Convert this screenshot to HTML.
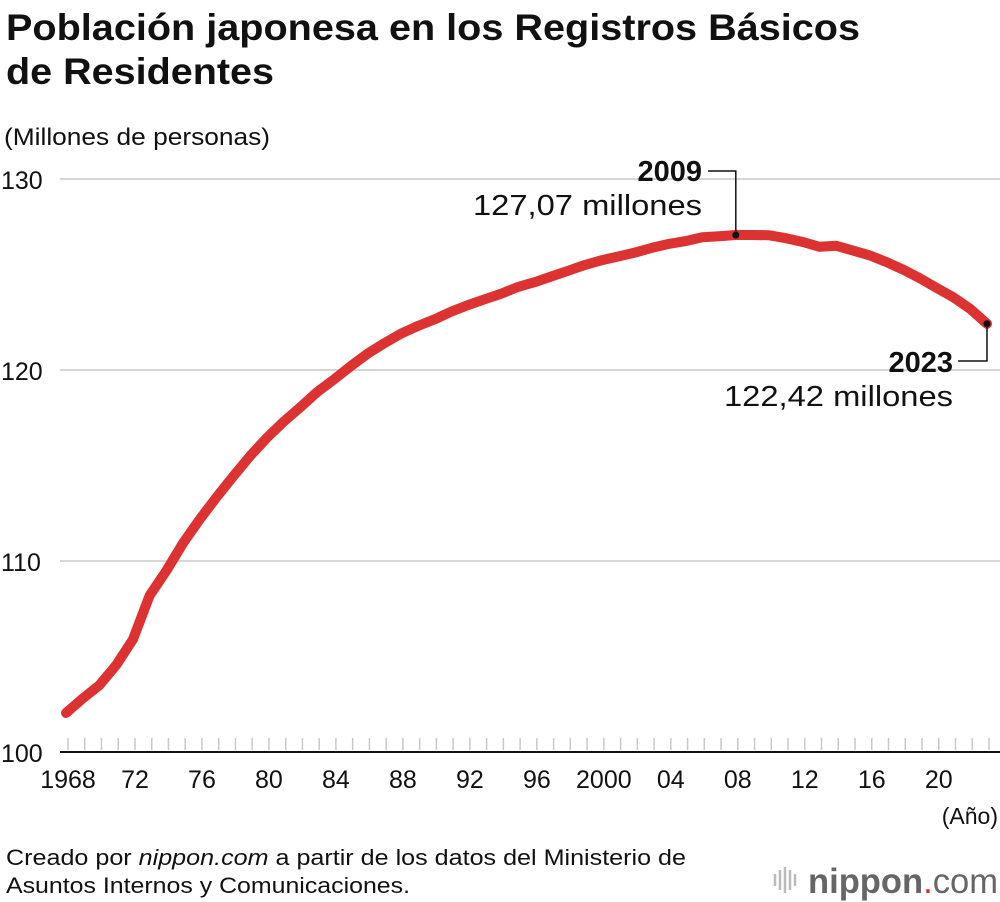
<!DOCTYPE html>
<html><head><meta charset="utf-8">
<style>
body{margin:0;background:#fff;font-family:"Liberation Sans",Arial,sans-serif;}
#wrap{position:relative;width:1000px;height:902px;overflow:hidden;}
</style></head>
<body>
<div id="wrap">
<svg id="chart" width="1000" height="902" xmlns="http://www.w3.org/2000/svg">
<text x="6" y="40" font-size="37" font-weight="bold" fill="#111" textLength="854" lengthAdjust="spacingAndGlyphs">Población japonesa en los Registros Básicos</text>
<text x="6" y="84" font-size="37" font-weight="bold" fill="#111" textLength="268" lengthAdjust="spacingAndGlyphs">de Residentes</text>
<text x="4" y="145" font-size="24" fill="#111" textLength="266" lengthAdjust="spacingAndGlyphs">(Millones de personas)</text>
<g id="grid"></g>
<g id="xticks"></g>
<path id="line" fill="none" stroke="#dc3232" stroke-width="10" stroke-linejoin="round" stroke-linecap="round"></path>
<g id="annot"></g>
<text x="998" y="824" font-size="23" text-anchor="end" fill="#111">(Año)</text>
<text x="6" y="865" font-size="22" fill="#111" textLength="680" lengthAdjust="spacingAndGlyphs">Creado por <tspan font-style="italic">nippon.com</tspan> a partir de los datos del Ministerio de</text>
<text x="6" y="893" font-size="22" fill="#111" textLength="404" lengthAdjust="spacingAndGlyphs">Asuntos Internos y Comunicaciones.</text>
<g>
<g stroke="#bbb" stroke-width="2.5">
<line x1="775" y1="874" x2="775" y2="886"/><line x1="780" y1="870" x2="780" y2="890"/><line x1="785" y1="867" x2="785" y2="893"/><line x1="790" y1="870" x2="790" y2="890"/><line x1="795" y1="874" x2="795" y2="886"/>
</g>
<text x="808" y="893" font-size="35" fill="#666" textLength="190" lengthAdjust="spacingAndGlyphs"><tspan font-weight="bold">nippon</tspan><tspan fill="#e0232b">.</tspan><tspan>com</tspan></text>
</g>
</svg>
</div>
<script>
const years=[1968,1969,1970,1971,1972,1973,1974,1975,1976,1977,1978,1979,1980,1981,1982,1983,1984,1985,1986,1987,1988,1989,1990,1991,1992,1993,1994,1995,1996,1997,1998,1999,2000,2001,2002,2003,2004,2005,2006,2007,2008,2009,2010,2011,2012,2013,2014,2015,2016,2017,2018,2019,2020,2021,2022,2023];
const population=[102.04,102.8,103.5,104.55,105.9,108.2,109.5,110.95,112.2,113.35,114.45,115.5,116.45,117.3,118.05,118.85,119.5,120.2,120.85,121.4,121.9,122.3,122.65,123.05,123.4,123.7,124.0,124.35,124.6,124.9,125.2,125.5,125.75,125.95,126.15,126.4,126.6,126.75,126.95,127.0,127.07,127.07,127.05,126.9,126.7,126.45,126.5,126.25,126.0,125.65,125.25,124.8,124.3,123.8,123.2,122.42];
const yTicks=[100,110,120,130];
const xTickYears=[1968,1972,1976,1980,1984,1988,1992,1996,2000,2004,2008,2012,2016,2020];
const xTickLabels=["1968","72","76","80","84","88","92","96","2000","04","08","12","16","20"];
const NS="http://www.w3.org/2000/svg";
const x=v=>66+(v-1968)*16.745;
const y=v=>752-(v-100)*19.1;
function el(t,a,p){const e=document.createElementNS(NS,t);for(const k in a)e.setAttribute(k,a[k]);p.appendChild(e);return e;}
const grid=document.getElementById('grid');
yTicks.forEach(t=>{
  const l=el('line',{x1:60,x2:1000,y1:y(t),y2:y(t),stroke:t===100?'#111':'#c8c8c8','stroke-width':t===100?2:1.5},grid);
  
  
  const tx=el('text',{x:1,y:y(t)+10,'font-size':25,fill:'#111'},grid);tx.textContent=t;
  
  
});
const xt=document.getElementById('xticks');
years.forEach(yr=>{
  const l=el('line',{x1:x(yr)+2,x2:x(yr)+2,y1:738,y2:750,stroke:'#c8c8c8','stroke-width':1.5},xt);
  
  
});
xTickYears.forEach((yr,i)=>{
  const t=el('text',{x:x(yr)+2,y:788,'font-size':25,fill:'#111','text-anchor':'middle'},xt);
  t.textContent=xTickLabels[i];
  
  
});
document.getElementById('line').setAttribute('d',years.map((yr,i)=>(i?'L':'M')+x(yr).toFixed(1)+','+y(population[i]).toFixed(1)).join(' '));
const an=document.getElementById('annot');
const peakI=40, lastI=years.length-1;
const px=x(years[peakI]),py=y(population[peakI]);
const p1=el('path',{d:`M${px},${py} V171 H708`,fill:'none',stroke:'#111','stroke-width':1.5},an);

const d1=el('circle',{cx:px,cy:py,r:3.5,fill:'#111'},an);

const t1=el('text',{x:702,y:181,'font-size':29,'font-weight':'bold','text-anchor':'end',fill:'#111'},an);t1.textContent='2009';

const t2=el('text',{x:702,y:215,'font-size':29,'text-anchor':'end',fill:'#111',textLength:229,lengthAdjust:'spacingAndGlyphs'},an);t2.textContent='127,07 millones';

const lx=x(years[lastI]),ly=y(population[lastI]);
const p2=el('path',{d:`M${lx},${ly} V361 H958`,fill:'none',stroke:'#111','stroke-width':1.5},an);

const d2=el('circle',{cx:lx,cy:ly,r:3.5,fill:'#111'},an);

const t3=el('text',{x:953,y:372,'font-size':29,'font-weight':'bold','text-anchor':'end',fill:'#111'},an);t3.textContent='2023';

const t4=el('text',{x:953,y:406,'font-size':29,'text-anchor':'end',fill:'#111',textLength:229,lengthAdjust:'spacingAndGlyphs'},an);t4.textContent='122,42 millones';

</script>
</body></html>
